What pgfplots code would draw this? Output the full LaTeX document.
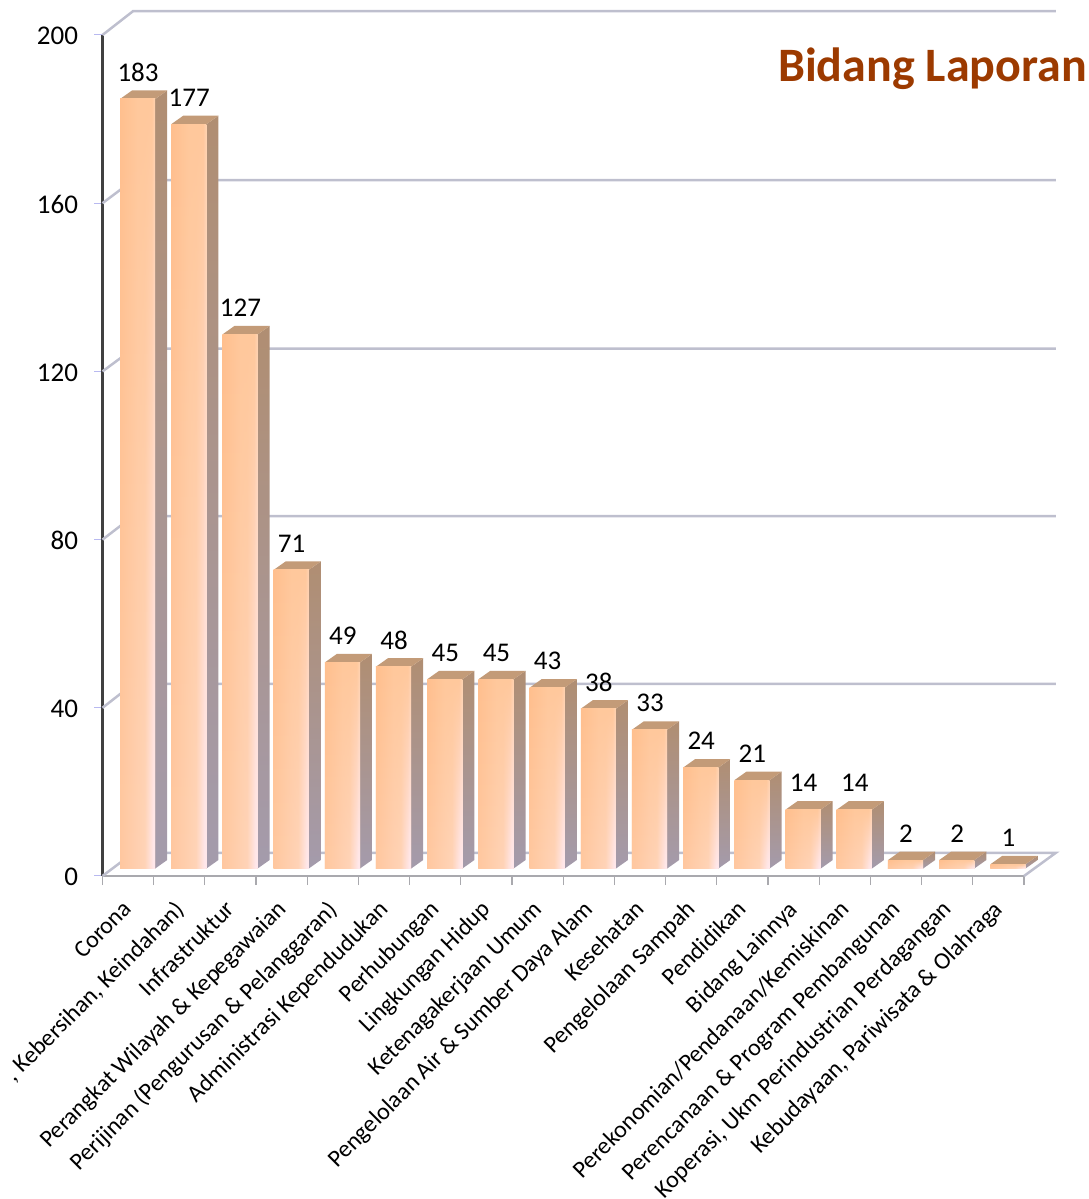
\documentclass[border=0pt]{standalone}
\usepackage{fontspec}
\setmainfont{Carlito}
\usepackage{pgfplots}
\usepackage{pgfplotstable}
\usetikzlibrary{fadings}
\pgfplotsset{compat=1.18}
\definecolor{wallc}{HTML}{BEBFCE}
\definecolor{floorc}{HTML}{A9A9AE}
\definecolor{titlec}{HTML}{9C3A00}
\definecolor{topc}{HTML}{C39B78}
\definecolor{HFa}{HTML}{FFBF8E}
\definecolor{HFb}{HTML}{FFC89C}
\definecolor{HFc}{HTML}{FFD3B2}
\definecolor{HLa}{HTML}{FFC8A0}
\definecolor{HLb}{HTML}{FFD4B8}
\definecolor{HLc}{HTML}{FFE8EC}
\definecolor{HSa}{HTML}{B08E72}
\definecolor{HSb}{HTML}{A49BAC}
\pgfdeclarehorizontalshading{barfront}{100bp}{color(0bp)=(HFa); color(25bp)=(HFa); color(50bp)=(HFb); color(70bp)=(HFb); color(75bp)=(HFc); color(100bp)=(HFc)}
\pgfdeclarehorizontalshading{barlow}{100bp}{color(0bp)=(HLa); color(25bp)=(HLa); color(60bp)=(HLb); color(72bp)=(HLc); color(75bp)=(HLc); color(100bp)=(HLc)}
\pgfdeclareverticalshading{barside}{100bp}{color(0bp)=(HSb); color(25bp)=(HSb); color(75bp)=(HSa); color(100bp)=(HSa)}
\tikzfading[name=lowfade, top color=transparent!100, middle color=transparent!75, bottom color=transparent!0]
\pgfplotstableread{
x v
0 183
1 177
2 127
3 71
4 49
5 48
6 45
7 45
8 43
9 38
10 33
11 24
12 21
13 14
14 14
15 2
16 2
17 1
}\bardata
\begin{document}
\begin{tikzpicture}
\path[use as bounding box, clip] (0,0) rectangle (1089pt,1199pt);
\begin{axis}[
  at={(102.5pt,323pt)}, anchor=south west,
  scale only axis, width=921.5pt, height=841pt,
  xmin=0, xmax=18, ymin=0, ymax=200,
  clip=false,
  /pgf/number format/assume math mode=true,
  axis x line=bottom, axis y line=left,
  x axis line style={-, draw=floorc, line width=2pt},
  y axis line style={-, draw=black!75, line width=2.2pt},
  tick align=outside,
  xtick={0.5,1.5,...,17.5},
  minor xtick={0,1,...,18},
  xticklabels={Corona,{, Kebersihan, Keindahan)},Infrastruktur,Perangkat Wilayah \& Kepegawaian,Perijinan (Pengurusan \& Pelanggaran),Administrasi Kependudukan,Perhubungan,Lingkungan Hidup,Ketenagakerjaan Umum,Pengelolaan Air \& Sumber Daya Alam,Kesehatan,Pengelolaan Sampah,Pendidikan,Bidang Lainnya,Perekonomian/Pendanaan/Kemiskinan,Perencanaan \& Program Pembangunan,{Koperasi, Ukm Perindustrian Perdagangan},{Kebudayaan, Pariwisata \& Olahraga}},
  major x tick style={draw=none},
  minor x tick style={draw=floorc, line width=1.2pt},
  minor tick length=9pt,
  ytick={0,40,80,120,160,200},
  y tick style={draw=wallc!60!blue!50!white, line width=1pt},
  major tick length=8pt,
  xticklabel style={font=\fontsize{24}{28}\selectfont, rotate=45, anchor=north east, inner sep=0pt, xshift=-15pt, yshift=-6pt},
  yticklabel style={font=\fontsize{27}{31}\selectfont, anchor=east, xshift=-13pt, yshift=-1pt},
  nodes near coords style={anchor=center, font=\fontsize{27}{31}\selectfont, inner sep=0pt, text=black},
]
% walls and floor
\addplot[wallc, line width=2.5pt] coordinates {(0,200) (0.6,205.7) (18.62,205.7)};
\addplot[wallc, line width=2.5pt] coordinates {(0,160) (0.6,165.5) (18.62,165.5)};
\addplot[wallc, line width=2.5pt] coordinates {(0,120) (0.6,125.4) (18.62,125.4)};
\addplot[wallc, line width=2.5pt] coordinates {(0,80) (0.6,85.6) (18.62,85.6)};
\addplot[wallc, line width=2.5pt] coordinates {(0,40) (0.6,45.7) (18.62,45.7)};
\addplot[wallc, line width=2.5pt] coordinates {(0,0) (0.6,5.5) (18.62,5.5) (18,0)};
% bars
\pgfplotsforeachungrouped \i in {0,1,...,17}{
  \pgfplotstablegetelem{\i}{v}\of\bardata
  \let\val\pgfplotsretval
  \pgfmathsetmacro\xa{\i+0.342}
  \pgfmathsetmacro\xb{\i+1.03}
  \pgfmathsetmacro\xc{\i+1.264}
  \pgfmathsetmacro\xd{\i+0.576}
  \pgfmathsetmacro\ya{1.78}
  \pgfmathsetmacro\yb{\val+1.78}
  \pgfmathsetmacro\yc{\val+3.8}
  \pgfmathsetmacro\ye{3.8}
  \edef\temp{\noexpand\addplot[draw=none, shade, shading=barside] coordinates {(\xb,\ya) (\xc,\ye) (\xc,\yc) (\xb,\yb) (\xb,\ya)};
  \noexpand\addplot[draw=none, fill=topc] coordinates {(\xa,\yb) (\xd,\yc) (\xc,\yc) (\xb,\yb) (\xa,\yb)};
  \noexpand\addplot[draw=none, shade, shading=barfront] coordinates {(\xa,\ya) (\xb,\ya) (\xb,\yb) (\xa,\yb) (\xa,\ya)};
  \noexpand\addplot[draw=none, shade, shading=barlow, path fading=lowfade] coordinates {(\xa,\ya) (\xb,\ya) (\xb,\yb) (\xa,\yb) (\xa,\ya)};}
  \temp
}
% value labels
\addplot[only marks, mark=none, nodes near coords, point meta=explicit]
  table[x expr=\thisrow{x}+0.695, y expr=\thisrow{v}+8.1, meta=v] {\bardata};
\node[anchor=east, font=\fontsize{48}{52}\selectfont\bfseries, text=titlec, inner sep=0pt] at (axis cs:19.23,192) {Bidang Laporan};
\end{axis}
\end{tikzpicture}
\end{document}
